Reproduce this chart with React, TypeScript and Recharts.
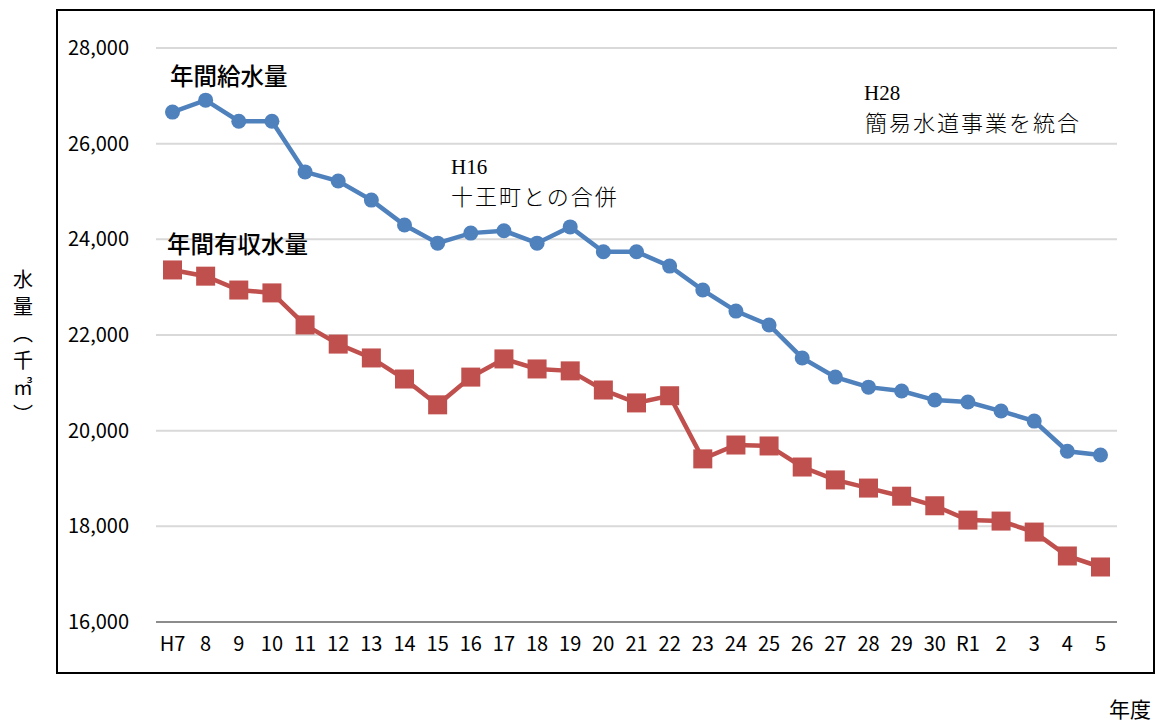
import React from 'react';
import { LineChart, Line, XAxis, YAxis, CartesianGrid } from 'recharts';

// 年度ラベル
const YEARS = [
  'H7', '8', '9', '10', '11', '12', '13', '14', '15', '16', '17', '18', '19', '20',
  '21', '22', '23', '24', '25', '26', '27', '28', '29', '30', 'R1', '2', '3', '4', '5',
];

// 年間給水量（千㎥）
const SUPPLY = [
  26660, 26910, 26470, 26470, 25410, 25220, 24820, 24300, 23920, 24130, 24180, 23920,
  24260, 23740, 23740, 23440, 22940, 22500, 22210, 21520, 21120, 20910, 20830, 20640,
  20600, 20410, 20200, 19570, 19490,
];

// 年間有収水量（千㎥）
const REVENUE = [
  23360, 23230, 22940, 22880, 22210, 21810, 21520, 21080, 20540, 21120, 21500, 21290,
  21250, 20850, 20580, 20730, 19410, 19700, 19680, 19240, 18970, 18800, 18630, 18430,
  18130, 18110, 17880, 17380, 17150,
];

const Y_TICKS = [16000, 18000, 20000, 22000, 24000, 26000, 28000];

const BLUE = '#4F81BD';
const RED = '#C0504D';
const SANS = '"Noto Sans CJK JP", "Noto Sans", sans-serif';
const SERIF = '"Liberation Serif", "DejaVu Serif", serif';

const data = YEARS.map((year, i) => ({ year, supply: SUPPLY[i], revenue: REVENUE[i] }));

// 四角マーカー
function SquareDot(props: any) {
  const { cx, cy } = props;
  if (cx == null || cy == null) return null;
  const s = 19;
  return <rect x={cx - s / 2} y={cy - s / 2} width={s} height={s} fill={RED} />;
}

export default function App() {
  return (
    <div style={{ position: 'absolute', left: 0, top: 0, width: 1160, height: 722, background: '#fff' }}>
      {/* 外枠 */}
      <div
        style={{
          position: 'absolute',
          left: 56,
          top: 9,
          width: 1099,
          height: 665,
          border: '2px solid #000',
          boxSizing: 'border-box',
        }}
      />
      <LineChart
        width={1160}
        height={722}
        data={data}
        margin={{ top: 48, right: 43, bottom: 70, left: 76 }}
        style={{ position: 'absolute', left: 0, top: 0 }}
      >
        <CartesianGrid vertical={false} stroke="#d9d9d9" strokeWidth={2} />
        <XAxis
          dataKey="year"
          height={30}
          padding={{ left: 16.5, right: 16.5 }}
          tickLine={false}
          tickSize={0}
          tickMargin={15}
          axisLine={{ stroke: '#8c8c8c', strokeWidth: 2 }}
          interval={0}
          tick={{ fill: '#000', fontSize: 20, fontFamily: SANS }}
        />
        <YAxis
          width={80}
          domain={[16000, 28000]}
          ticks={Y_TICKS}
          tickLine={false}
          axisLine={false}
          tickSize={0}
          tickMargin={27}
          tickFormatter={(v: number) => v.toLocaleString('en-US')}
          tick={{ fill: '#000', fontSize: 20, fontFamily: SANS }}
        />
        <Line
          dataKey="supply"
          stroke={BLUE}
          strokeWidth={4.5}
          dot={{ r: 7.5, fill: BLUE, stroke: BLUE, strokeWidth: 0 }}
          isAnimationActive={false}
        />
        <Line
          dataKey="revenue"
          stroke={RED}
          strokeWidth={4.5}
          dot={<SquareDot />}
          isAnimationActive={false}
        />
      </LineChart>
      <svg width={1160} height={722} style={{ position: 'absolute', left: 0, top: 0, pointerEvents: 'none' }}>
        <g fontFamily={SANS} fill="#000" dominantBaseline="central">
          <text x={170} y={75} fontSize={23.5} fontWeight={500}>年間給水量</text>
          <text x={167} y={243} fontSize={23.5} fontWeight={500}>年間有収水量</text>
          <text x={1109} y={708} fontSize={21}>年度</text>
          {['水', '量', '︵', '千', '㎥', '︶'].map((ch, i) => (
            <text key={i} x={23} y={278 + i * 27} fontSize={20} textAnchor="middle">
              {ch}
            </text>
          ))}
        </g>
        <g fill="#000" dominantBaseline="central">
          <text x={451} y={167} fontSize={21} fontFamily={SERIF}>H16</text>
          <text x={451} y={195} fontSize={22} fontFamily={SANS} fontWeight={300} letterSpacing={2}>
            十王町との合併
          </text>
          <text x={864} y={93} fontSize={21} fontFamily={SERIF}>H28</text>
          <text x={865} y={121} fontSize={22} fontFamily={SANS} fontWeight={300} letterSpacing={2}>
            簡易水道事業を統合
          </text>
        </g>
      </svg>
    </div>
  );
}
